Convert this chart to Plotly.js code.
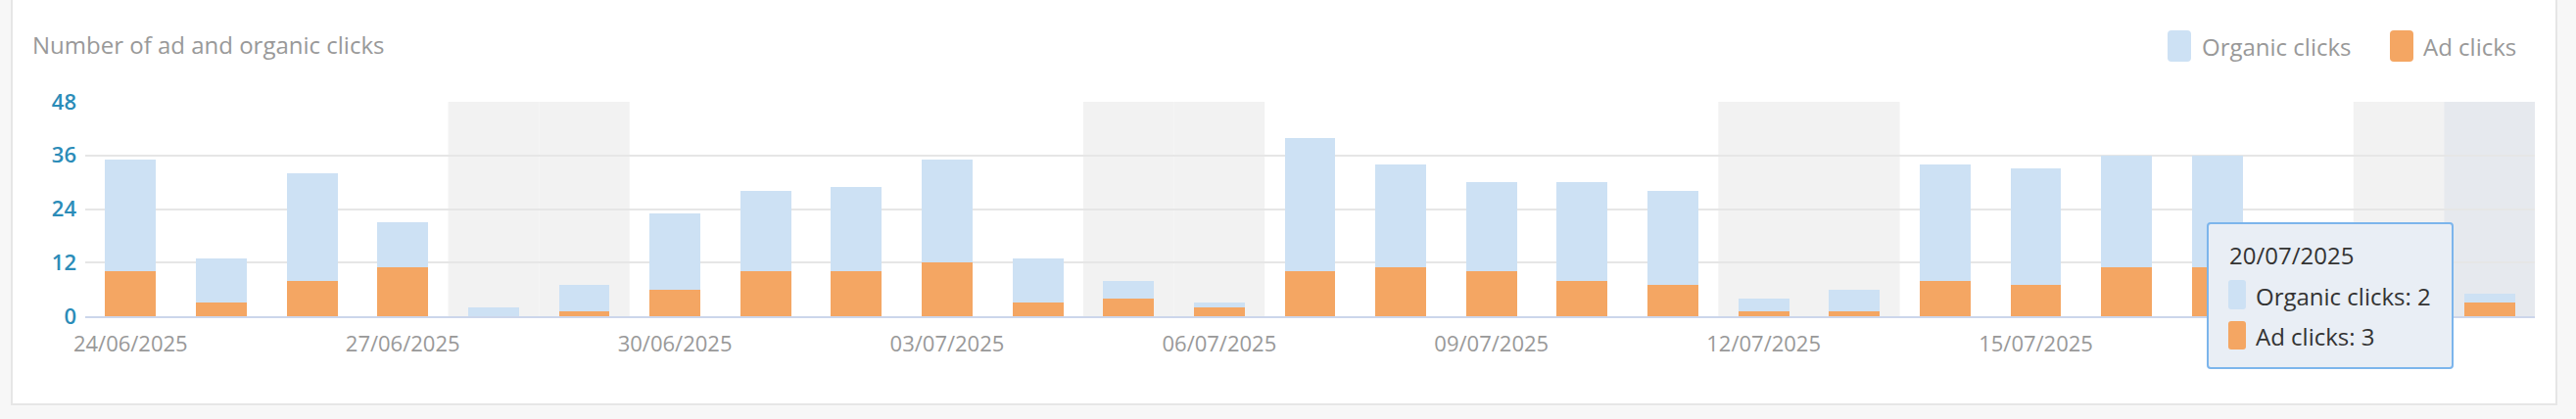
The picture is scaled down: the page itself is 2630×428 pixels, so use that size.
<!DOCTYPE html>
<html>
<head>
<meta charset="utf-8">
<script src="https://cdn.plot.ly/plotly-3.0.1.min.js"></script>
<style>
  html, body { margin: 0; padding: 0; background: #f7f7f7; }
  #chart { width: 2630px; height: 428px; }
</style>
</head>
<body>
<div id="chart"></div>
<script>
// ---- data ----
const dates = [
  "24/06/2025","25/06/2025","26/06/2025","27/06/2025","28/06/2025","29/06/2025","30/06/2025",
  "01/07/2025","02/07/2025","03/07/2025","04/07/2025","05/07/2025","06/07/2025","07/07/2025",
  "08/07/2025","09/07/2025","10/07/2025","11/07/2025","12/07/2025","13/07/2025","14/07/2025",
  "15/07/2025","16/07/2025","17/07/2025","18/07/2025","19/07/2025","20/07/2025"
];
const organicClicks = [25,10,24,10,2,6,17,18,19,23,10,4,1,30,23,20,22,21,3,5,26,26,25,25,12,2,2];
const adClicks      = [10,3,8,11,0,1,6,10,10,12,3,4,2,10,11,10,8,7,1,1,8,7,11,11,5,1,3];
const yTicks = [0,12,24,36,48];
// tick labels visible in the reference (the 18/07 one is hidden behind the tooltip)
const xTickLabels = ["24/06/2025","27/06/2025","30/06/2025","03/07/2025","06/07/2025","09/07/2025","12/07/2025","15/07/2025"];
const hoveredDate = "20/07/2025";
const seriesNames = ["Organic clicks", "Ad clicks"];
const chartTitle = "Number of ad and organic clicks";

// ---- style ----
const C_ORG = "#cde1f4", C_AD = "#f4a663";
const FONT = "Open Sans";
const W = 2630, H = 428;
const PL = 87, PR = 2588, PT = 104, PB = 323;
const X = p => (p - PL) / (PR - PL);
const Y = p => (PB - p) / (PB - PT);

function rr(x0, y0, x1, y1, r) {
  return `M${X(x0 + r)},${Y(y0)} L${X(x1 - r)},${Y(y0)} Q${X(x1)},${Y(y0)} ${X(x1)},${Y(y0 + r)} ` +
         `L${X(x1)},${Y(y1 - r)} Q${X(x1)},${Y(y1)} ${X(x1 - r)},${Y(y1)} ` +
         `L${X(x0 + r)},${Y(y1)} Q${X(x0)},${Y(y1)} ${X(x0)},${Y(y1 - r)} ` +
         `L${X(x0)},${Y(y0 + r)} Q${X(x0)},${Y(y0)} ${X(x0 + r)},${Y(y0)} Z`;
}

const traces = [
  { type: "bar", name: seriesNames[1], x: dates, y: adClicks, marker: { color: C_AD, line: { width: 0 } } },
  { type: "bar", name: seriesNames[0], x: dates, y: organicClicks, marker: { color: C_ORG, line: { width: 0 } } }
];

// weekend bands from dates
function isWeekend(d) {
  const [dd, mm, yy] = d.split("/").map(Number);
  const wd = new Date(yy, mm - 1, dd).getDay();
  return wd === 0 || wd === 6;
}
const shapes = [];
// card
shapes.push({ type: "rect", xref: "paper", yref: "paper", x0: X(12), x1: X(2610), y0: Y(413), y1: Y(-30),
  fillcolor: "#ffffff", line: { color: "#e6e6e6", width: 2 }, layer: "below" });
dates.forEach((d, i) => {
  if (isWeekend(d)) shapes.push({ type: "rect", xref: "x", yref: "paper", x0: i - 0.5, x1: i + 0.5, y0: 0, y1: 1,
    fillcolor: "#f2f2f2", line: { width: 0 }, layer: "below" });
});
const hi = dates.indexOf(hoveredDate);
shapes.push({ type: "rect", xref: "x", yref: "paper", x0: hi - 0.5, x1: hi + 0.5, y0: 0, y1: 1,
  fillcolor: "#e6e9ee", line: { width: 0 }, layer: "below" });

// legend swatches
shapes.push({ type: "path", xref: "paper", yref: "paper", path: rr(2213, 31, 2237, 63, 4), fillcolor: C_ORG, line: { width: 0 }, layer: "above" });
shapes.push({ type: "path", xref: "paper", yref: "paper", path: rr(2440, 31, 2464, 63, 4), fillcolor: C_AD, line: { width: 0 }, layer: "above" });
// tooltip
shapes.push({ type: "path", xref: "paper", yref: "paper", path: rr(2254, 228, 2504, 376, 3), fillcolor: "#e9eef5", line: { color: "#7cb5ec", width: 2 }, layer: "above" });
shapes.push({ type: "path", xref: "paper", yref: "paper", path: rr(2275, 286, 2293, 316, 3), fillcolor: C_ORG, line: { width: 0 }, layer: "above" });
shapes.push({ type: "path", xref: "paper", yref: "paper", path: rr(2275, 328, 2293, 357, 3), fillcolor: C_AD, line: { width: 0 }, layer: "above" });

const ann = (text, px, py, size, color) => ({ text, xref: "paper", yref: "paper", x: X(px), y: Y(py),
  xanchor: "left", yanchor: "middle", showarrow: false, borderpad: 0, font: { family: FONT, size, color } });

const annotations = [
  ann(seriesNames[0], 2247, 47, 24, "#999999"),
  ann(seriesNames[1], 2473, 47, 24, "#999999"),
  ann(hoveredDate, 2275, 260, 24, "#333333"),
  ann(seriesNames[0] + ": " + organicClicks[hi], 2302, 302, 24, "#333333"),
  ann(seriesNames[1] + ": " + adClicks[hi], 2302, 343, 24, "#333333")
];

const layout = {
  width: W, height: H,
  margin: { l: PL, r: W - PR, t: PT, b: H - PB, pad: 0 },
  paper_bgcolor: "#f7f7f7",
  plot_bgcolor: "rgba(0,0,0,0)",
  barmode: "stack",
  bargap: 0.44,
  showlegend: false,
  hovermode: false,
  title: { text: chartTitle, xref: "container", yref: "container", x: 33 / W, xanchor: "left",
    y: 1 - 47 / H, yanchor: "middle", pad: { t: 0, b: 0, l: 0, r: 0 },
    font: { family: FONT, size: 24, color: "#999999" } },
  xaxis: {
    type: "category", range: [-0.5, dates.length - 0.5],
    tickmode: "array", tickvals: xTickLabels, ticktext: xTickLabels,
    showgrid: false, zeroline: false, showline: true, linecolor: "#ccd6eb", linewidth: 2,
    ticks: "", ticklabelstandoff: 8,
    tickfont: { family: FONT, size: 22, color: "#999999" }
  },
  yaxis: {
    range: [0, 48], tickmode: "array", tickvals: yTicks,
    showgrid: true, gridcolor: "#e6e6e6", gridwidth: 2, zeroline: false, showline: false,
    ticks: "", ticklabelstandoff: 8,
    tickfont: { family: FONT, size: 22, color: "#2b8cb8", weight: 600 }
  },
  shapes, annotations
};

Plotly.newPlot("chart", traces, layout, { staticPlot: true, displayModeBar: false });
</script>
</body>
</html>
